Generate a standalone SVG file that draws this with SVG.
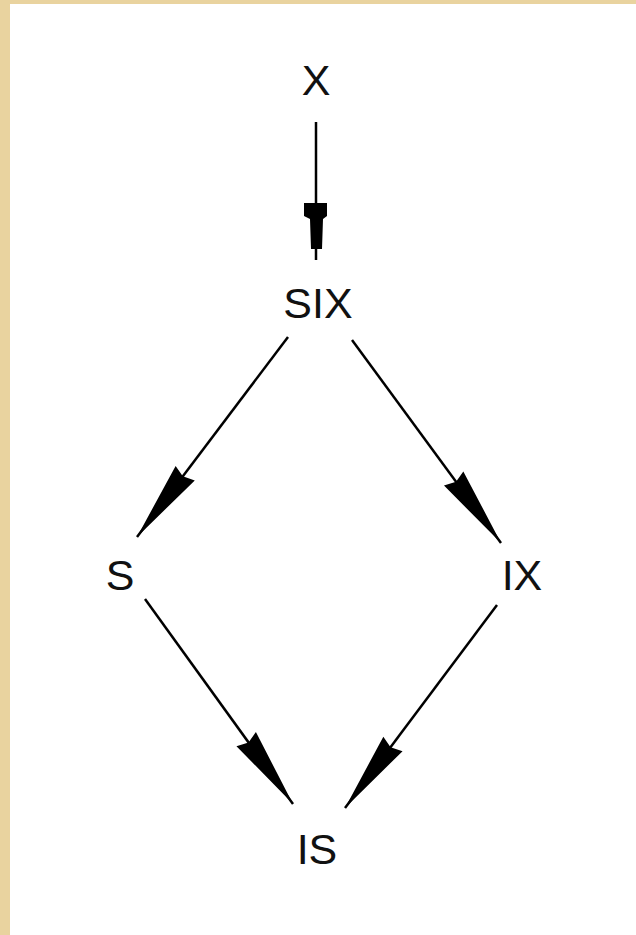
<svg xmlns="http://www.w3.org/2000/svg" width="636" height="935" viewBox="0 0 636 935">
<style>
.lbl{font-family:"Liberation Sans",Arial,sans-serif;font-size:43px;fill:#111;text-anchor:middle}
.edge{stroke:#000;stroke-width:2.5;fill:none}
.head{fill:#000}
</style>
<defs>
<marker id="arr" markerUnits="userSpaceOnUse" markerWidth="95" markerHeight="34" viewBox="-85 -17 95 34" refX="0" refY="0" orient="auto">
<path class="head" d="M0,0 L-80,-12 L-76,0 L-80,12 Z"/>
</marker>
</defs>
<rect x="0" y="0" width="636" height="935" fill="#fff"/>
<rect x="0" y="0" width="636" height="4" fill="#e9d39f"/>
<rect x="0" y="0" width="10" height="935" fill="#e9d39f"/>
<g id="connectors">
<line class="edge" x1="316" y1="122" x2="316" y2="260"/>
<polygon class="head" points="304,203 327,203 327,216 323,219 322,249 311,249 310,219 304,216"/>
<line class="edge" x1="288" y1="337" x2="137" y2="537" marker-end="url(#arr)"/>
<line class="edge" x1="352" y1="340" x2="501" y2="543" marker-end="url(#arr)"/>
<line class="edge" x1="145" y1="599" x2="293" y2="804" marker-end="url(#arr)"/>
<line class="edge" x1="497" y1="605" x2="345" y2="808" marker-end="url(#arr)"/>
</g>
<g id="node-X"><text class="lbl" x="316" y="95">X</text></g>
<g id="node-SIX"><text class="lbl" x="318" y="318">SIX</text></g>
<g id="node-S"><text class="lbl" x="120" y="590">S</text></g>
<g id="node-IX"><text class="lbl" x="522" y="590">IX</text></g>
<g id="node-IS"><text class="lbl" x="317" y="864">IS</text></g>
</svg>
